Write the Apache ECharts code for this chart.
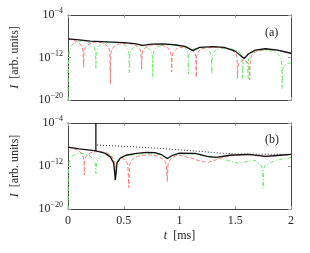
<!DOCTYPE html>
<html><head><meta charset="utf-8">
<script src="https://cdn.jsdelivr.net/npm/echarts@6/dist/echarts.min.js"></script>
<style>html,body{margin:0;padding:0;background:#fff}#c{width:310px;height:253px}</style>
</head><body><div id="c"></div>
<script>
// values are log10(I); t in ms
const xTicks = [0, 0.5, 1, 1.5, 2];
const yTicks = [-20, -12, -4];
// panel (a)
const blackA = [[0,-8.5],[0.1,-8.7],[0.2,-8.9],[0.3,-9.0],[0.4,-9.1],[0.5,-9.2],[0.6,-9.4],[0.67,-9.7],[0.75,-9.5],[0.85,-9.45],[0.95,-9.6],[1.05,-9.9],[1.12,-10.7],[1.18,-10.1],[1.3,-9.95],[1.4,-10.1],[1.5,-10.8],[1.545,-11.6],[1.58,-12.2],[1.62,-11.3],[1.68,-10.6],[1.77,-10.35],[1.88,-10.6],[2.0,-11.2]];
const redA = [[0,-8.5],[0.04,-8.7],[0.08,-9.0],[0.11,-9.5],[0.128,-10.1],[0.136,-10.8],[0.14,-13.8],[0.144,-11.0],[0.155,-10.2],[0.18,-9.6],[0.21,-9.25],[0.26,-9.05],[0.31,-9.25],[0.34,-9.6],[0.365,-10.2],[0.376,-11.0],[0.38,-17.0],[0.384,-11.2],[0.395,-10.4],[0.42,-9.8],[0.46,-9.45],[0.52,-9.35],[0.58,-9.5],[0.62,-9.85],[0.645,-10.4],[0.656,-11.2],[0.66,-14.2],[0.664,-11.4],[0.675,-10.6],[0.70,-10.05],[0.74,-9.7],[0.795,-9.6],[0.85,-9.75],[0.89,-10.1],[0.915,-10.7],[0.926,-11.5],[0.93,-14.7],[0.934,-11.8],[0.945,-11.0],[0.97,-10.45],[1.0,-10.15],[1.04,-10.05],[1.08,-10.2],[1.11,-10.5],[1.135,-11.0],[1.146,-11.8],[1.15,-15.7],[1.154,-11.8],[1.165,-11.0],[1.19,-10.5],[1.23,-10.2],[1.33,-10.05],[1.42,-10.25],[1.47,-10.6],[1.505,-11.2],[1.516,-12.0],[1.52,-15.9],[1.524,-13.7],[1.535,-13.0],[1.575,-12.4],[1.615,-13.0],[1.626,-13.7],[1.63,-16.2],[1.634,-12.5],[1.645,-11.7],[1.67,-11.1],[1.71,-10.7],[1.77,-10.45],[1.9,-10.7],[2.0,-11.3]];
const greenA = [[0,-20],[0.003,-12.5],[0.012,-10.8],[0.03,-9.8],[0.06,-9.2],[0.125,-8.85],[0.18,-9.05],[0.21,-9.4],[0.235,-10.0],[0.246,-10.8],[0.25,-14.2],[0.254,-11.0],[0.265,-10.2],[0.29,-9.6],[0.33,-9.3],[0.40,-9.15],[0.47,-9.3],[0.51,-9.65],[0.535,-10.2],[0.546,-11.0],[0.55,-14.9],[0.554,-11.3],[0.565,-10.6],[0.59,-10.1],[0.655,-9.75],[0.71,-10.05],[0.745,-10.7],[0.756,-11.4],[0.76,-15.7],[0.764,-11.2],[0.775,-10.5],[0.80,-10.0],[0.84,-9.7],[0.92,-9.55],[1.0,-9.7],[1.04,-10.0],[1.065,-10.6],[1.076,-11.3],[1.08,-15.1],[1.084,-11.6],[1.095,-10.9],[1.12,-10.45],[1.185,-10.15],[1.24,-10.45],[1.275,-11.0],[1.286,-11.8],[1.29,-15.1],[1.294,-11.8],[1.305,-11.0],[1.33,-10.6],[1.37,-10.35],[1.43,-10.25],[1.5,-10.55],[1.545,-11.2],[1.561,-12.0],[1.565,-15.9],[1.569,-13.4],[1.58,-12.8],[1.59,-12.65],[1.60,-12.8],[1.611,-13.4],[1.615,-16.0],[1.619,-12.3],[1.63,-11.6],[1.66,-11.0],[1.70,-10.7],[1.76,-10.6],[1.83,-10.8],[1.88,-11.3],[1.905,-11.9],[1.916,-12.6],[1.92,-17.8],[1.924,-14.3],[1.94,-13.5],[1.97,-13.1],[2.0,-13.0]];
// panel (b)
const blackB = [[0,-8.47],[0.1,-8.8],[0.2,-9.05],[0.25,-9.2],[0.25,-4],[0.25,-9.2],[0.33,-9.6],[0.38,-10.3],[0.41,-11.5],[0.425,-14.6],[0.44,-11.4],[0.47,-10.5],[0.52,-10.0],[0.6,-9.7],[0.7,-9.45],[0.78,-9.5],[0.84,-9.9],[0.89,-10.6],[0.94,-10.0],[1.0,-9.6],[1.14,-9.65],[1.25,-10.2],[1.33,-10.4],[1.45,-10.0],[1.62,-9.85],[1.77,-10.2],[1.9,-10.0],[2.0,-9.85]];
const dottedB = [[0.26,-8.1],[0.65,-8.5],[0.85,-8.75],[1.0,-9.0],[1.2,-9.3],[1.36,-9.6],[1.5,-9.75],[1.7,-9.8],[2.0,-9.85]];
const redB = [[0,-8.47],[0.05,-8.75],[0.09,-9.1],[0.12,-9.6],[0.138,-10.4],[0.143,-11.0],[0.147,-13.7],[0.151,-11.0],[0.16,-10.3],[0.18,-9.8],[0.22,-9.4],[0.28,-9.3],[0.34,-9.5],[0.38,-9.9],[0.405,-10.6],[0.418,-11.4],[0.425,-14.5],[0.431,-12.0],[0.445,-11.2],[0.485,-10.5],[0.52,-11.0],[0.537,-11.8],[0.545,-16.0],[0.553,-11.8],[0.57,-10.9],[0.6,-10.35],[0.65,-10.05],[0.72,-9.9],[0.8,-10.15],[0.86,-10.8],[0.882,-11.7],[0.89,-14.9],[0.898,-11.6],[0.92,-10.7],[0.96,-10.15],[1.0,-10.0],[1.1,-10.5],[1.2,-11.2],[1.26,-11.3],[1.35,-10.7],[1.45,-10.1],[1.62,-9.9],[1.77,-10.25],[1.9,-10.05],[2.0,-9.9]];
const greenB = [[0,-20],[0.003,-12.5],[0.012,-10.9],[0.03,-10.2],[0.09,-9.6],[0.16,-9.8],[0.2,-10.15],[0.228,-10.8],[0.244,-11.5],[0.25,-13.4],[0.256,-11.5],[0.272,-10.7],[0.3,-10.1],[0.34,-9.85],[0.38,-10.15],[0.405,-10.9],[0.415,-11.6],[0.42,-14.6],[0.428,-11.8],[0.445,-11.0],[0.48,-10.5],[0.52,-10.15],[0.6,-9.85],[0.7,-9.6],[0.78,-9.65],[0.84,-10.0],[0.89,-10.65],[0.94,-10.1],[1.0,-9.75],[1.14,-9.8],[1.25,-10.35],[1.35,-10.55],[1.52,-11.45],[1.68,-10.95],[1.73,-11.8],[1.745,-12.6],[1.75,-16.2],[1.755,-12.6],[1.77,-11.8],[1.86,-10.95],[2.0,-10.45]];

const FONT = 'Liberation Serif';
const TICK = '#999';
const FRAME = '#444';

function yLab(v){ return '{b|10}{s|\u2212' + Math.abs(v) + '}'; }
const yRich = { b:{fontFamily:FONT,fontSize:12,color:'#222'}, s:{fontFamily:FONT,fontSize:8,color:'#222',padding:[0,0,8,0]} };

function xAxis(grid, pos, labels, name){
  return { type:'value', gridIndex:grid, position:pos, min:0, max:2, interval:0.5,
    axisLine:{show:true,onZero:false,lineStyle:{color:FRAME,width:1}},
    axisTick:{show:true,inside:true,length:3,lineStyle:{color:TICK}},
    splitLine:{show:false},
    axisLabel:{show:labels,color:'#222',fontFamily:FONT,fontSize:12,margin:6,
      formatter:v=> xTicks.indexOf(v)>=0 ? String(v) : ''},
    name: name||'', nameLocation:'middle', nameGap:21,
    nameTextStyle:{fontFamily:FONT,fontSize:12,color:'#222',rich:{i:{fontFamily:FONT,fontStyle:'italic',fontSize:12,color:'#222'}}}
  };
}
function yAxis(grid, pos, labels){
  return { type:'value', gridIndex:grid, position:pos, min:-20, max:-4, interval:8,
    axisLine:{show:true,onZero:false,lineStyle:{color:FRAME,width:1}},
    axisTick:{show:true,inside:true,length:3,lineStyle:{color:TICK}},
    splitLine:{show:false},
    axisLabel:{show:labels,margin:5,formatter:v=> yTicks.indexOf(v)>=0 ? yLab(v) : '',rich:yRich},
    name: labels ? '{i|I}  [arb. units]' : '', nameLocation:'middle', nameGap:47, nameRotate:90,
    nameTextStyle:{fontFamily:FONT,fontSize:12,color:'#222',rich:{i:{fontFamily:FONT,fontStyle:'italic',fontSize:12,color:'#222'}}}
  };
}
function line(data, xi, yi, color, type, width, z){
  return { type:'line', xAxisIndex:xi, yAxisIndex:yi, data:data, showSymbol:false, symbol:'none',
    lineStyle:{color:color,type:type,width:width}, z:z, silent:true, animation:false, clip:true };
}
const RED='#ff7a7a', GREEN='#6fe86f';
const option = {
  animation:false,
  grid:[{left:68,right:19,top:15,height:85},{left:68,right:19,top:123,height:86}],
  xAxis:[xAxis(0,'bottom',false), xAxis(0,'top',false), xAxis(1,'bottom',true,'{i|t}  [ms]'), xAxis(1,'top',false)],
  yAxis:[yAxis(0,'left',true), yAxis(0,'right',false), yAxis(1,'left',true), yAxis(1,'right',false)],
  series:[
    line(greenA,0,0,GREEN,[4,2,1,2],1,2),
    line(redA,0,0,RED,[4,2],1,3),
    line(blackA,0,0,'#111','solid',1.3,4),
    line(greenB,2,2,GREEN,[4,2,1,2],1,2),
    line(redB,2,2,RED,[4,2],1,3),
    line(dottedB,2,2,'#222',[1,2],1,4),
    line(blackB,2,2,'#111','solid',1.3,5)
  ],
  graphic:[
    {type:'text',left:265,top:27,style:{text:'(a)',font:'12px "Liberation Serif"',fill:'#222'}},
    {type:'text',left:265,top:134,style:{text:'(b)',font:'12px "Liberation Serif"',fill:'#222'}}
  ]
};
const chart = echarts.init(document.getElementById('c'), null, {renderer:'canvas'});
chart.setOption(option);
</script></body></html>
